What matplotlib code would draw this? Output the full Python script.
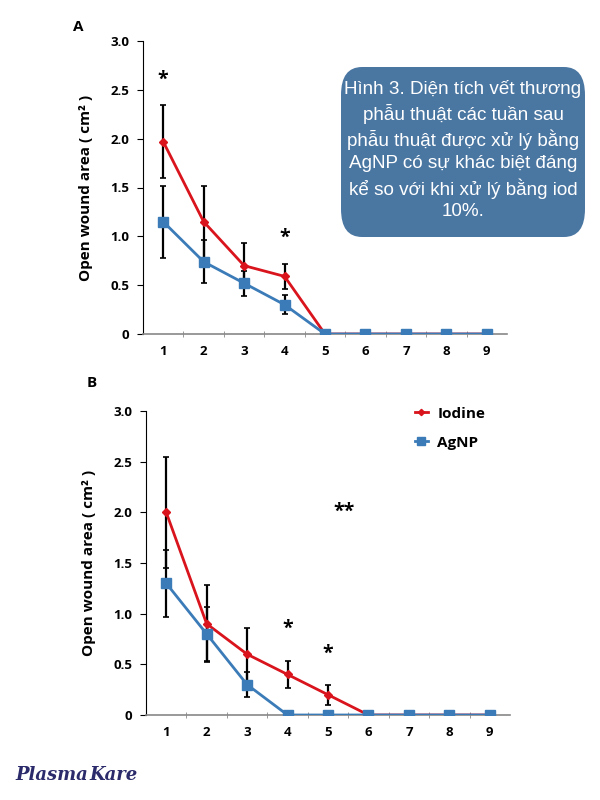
import numpy as np
import matplotlib.pyplot as plt
from matplotlib.patches import FancyBboxPatch

weeks = [1, 2, 3, 4, 5, 6, 7, 8, 9]

# panel A
iod_a = [1.97, 1.15, 0.70, 0.59, 0, 0, 0, 0, 0]
iod_a_err = [0.37, 0.37, 0.23, 0.13, 0, 0, 0, 0, 0]
ag_a = [1.15, 0.74, 0.52, 0.30, 0, 0, 0, 0, 0]
ag_a_err = [0.37, 0.22, 0.13, 0.10, 0, 0, 0, 0, 0]

# panel B
iod_b = [2.0, 0.9, 0.6, 0.4, 0.2, 0, 0, 0, 0]
iod_b_err = [0.55, 0.38, 0.26, 0.13, 0.10, 0, 0, 0, 0]
ag_b = [1.3, 0.8, 0.3, 0, 0, 0, 0, 0, 0]
ag_b_err = [0.33, 0.27, 0.12, 0, 0, 0, 0, 0, 0]

stars_a = [(1, 2.6, '*'), (4, 0.98, '*')]
stars_b = [(4, 0.85, '*'), (5, 0.6, '*'), (5.4, 2.0, '**')]

yticks = [0, 0.5, 1.0, 1.5, 2.0, 2.5, 3.0]
ytick_labels = ['0', '0.5', '1.0', '1.5', '2.0', '2.5', '3.0']

caption = ("Hình 3. Diện tích vết thương\nphẫu thuật các tuần sau\n"
           "phẫu thuật được xử lý bằng\nAgNP có sự khác biệt đáng\n"
           "kể so với khi xử lý bằng iod\n10%.")

RED = '#d9141c'
BLUE = '#3b7bb8'
plt.rcParams['font.family'] = ['Open Sans', 'DejaVu Sans']

fig = plt.figure(figsize=(6, 8), dpi=100)


def panel(rect, iod, iod_err, ag, ag_err, stars):
    ax = fig.add_axes(rect)
    x = np.array(weeks)
    ax.errorbar(x, iod, yerr=np.array(iod_err), fmt='none',
                ecolor='black', elinewidth=1.6, capsize=2, capthick=1.2, zorder=2)
    ax.errorbar(x, ag, yerr=np.array(ag_err), fmt='none',
                ecolor='black', elinewidth=1.6, capsize=2, capthick=1.2, zorder=2)
    ax.plot(x, iod, color=RED, lw=2, marker='D', ms=4, zorder=3, label='Iodine')
    ax.plot(x, ag, color=BLUE, lw=2, marker='s', ms=6.5, zorder=4, label='AgNP')
    ax.set_xlim(0.5, 9.5)
    ax.set_ylim(0, 3.0)
    ax.set_yticks(yticks)
    ax.set_yticklabels(ytick_labels, fontweight='bold', fontsize=9.5)
    ax.set_xticks(weeks)
    ax.set_xticklabels([str(w) for w in weeks], fontweight='bold', fontsize=9.5)
    ax.set_xticks(np.arange(1.5, 9.5, 1), minor=True)
    ax.tick_params(axis='x', which='major', length=0, pad=8)
    ax.tick_params(axis='x', which='minor', length=4, direction='inout', color='#888888')
    ax.tick_params(axis='y', length=4, direction='out', pad=6)
    for s in ['top', 'right']:
        ax.spines[s].set_visible(False)
    ax.spines['bottom'].set_color('#888888')
    ax.spines['bottom'].set_linewidth(1.2)
    ax.spines['left'].set_linewidth(0.8)
    ax.set_ylabel('Open wound area ( cm² )', fontweight='bold', fontsize=11, labelpad=12)
    for sx, sy, s in stars:
        ax.text(sx, sy, s, ha='center', va='center', fontsize=14, fontweight='bold')
    return ax


ax_a = panel([0.2383, 0.5825, 0.6067, 0.36625], iod_a, iod_a_err, ag_a, ag_a_err, stars_a)
ax_b = panel([0.2433, 0.10625, 0.6067, 0.38], iod_b, iod_b_err, ag_b, ag_b_err, stars_b)

leg = ax_b.legend(loc='upper left', bbox_to_anchor=(0.7, 1.06), frameon=False,
                  prop={'weight': 'bold', 'size': 11}, handlelength=0.9,
                  handletextpad=0.6, labelspacing=1.0, markerscale=0.8)

fig.text(78 / 600, 1 - 27 / 800, 'A', fontsize=11, fontweight='bold', ha='center', va='center')
fig.text(92 / 600, 1 - 383 / 800, 'B', fontsize=11, fontweight='bold', ha='center', va='center')

box = FancyBboxPatch((341 / 600, 1 - 237 / 800), 244 / 600, 170 / 800,
                     boxstyle='round,pad=0,rounding_size=0.035', transform=fig.transFigure,
                     facecolor='#4a76a2', edgecolor='none', zorder=5)
fig.patches.append(box)
fig.text(463 / 600, 1 - 150 / 800, caption, color='white', fontsize=13.6,
         family=['Liberation Sans', 'DejaVu Sans'],
         ha='center', va='center', linespacing=1.37, zorder=6)

fig.text(15 / 600, 1 - 775 / 800, 'Plasma', color='#2b2a6b', fontsize=13,
         fontweight='bold', style='italic', family='DejaVu Serif', ha='left', va='center')
fig.text(89 / 600, 1 - 775 / 800, 'Kare', color='#2b2a6b', fontsize=13,
         fontweight='bold', style='italic', family='DejaVu Serif', ha='left', va='center')

fig.savefig('out.png', dpi=100)
